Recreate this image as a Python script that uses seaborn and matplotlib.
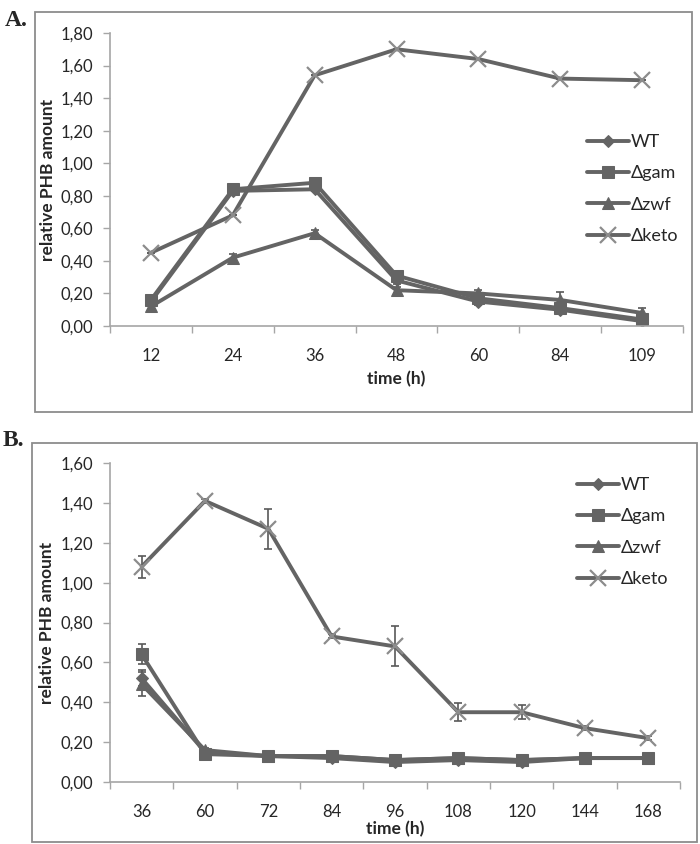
import matplotlib
matplotlib.use("Agg")
import matplotlib.pyplot as plt
from matplotlib.patches import Rectangle
import seaborn as sns

# panel A data
times_a = ["12", "24", "36", "48", "60", "84", "109"]
wt_a = [0.15, 0.83, 0.84, 0.28, 0.15, 0.10, 0.03]
gam_a = [0.16, 0.84, 0.88, 0.31, 0.17, 0.11, 0.04]
zwf_a = [0.12, 0.42, 0.57, 0.22, 0.20, 0.16, 0.08]
keto_a = [0.45, 0.68, 1.54, 1.70, 1.64, 1.52, 1.51]
wt_a_err = [0.01, 0.01, 0.01, 0.02, 0.02, 0.02, 0.01]
gam_a_err = [0.02, 0.01, 0.01, 0.02, 0.02, 0.02, 0.01]
zwf_a_err = [0.02, 0.02, 0.02, 0.02, 0.02, 0.05, 0.03]
keto_a_err = [0.0, 0.0, 0.0, 0.0, 0.0, 0.0, 0.0]

# panel B data
times_b = ["36", "60", "72", "84", "96", "108", "120", "144", "168"]
wt_b = [0.52, 0.15, 0.13, 0.12, 0.10, 0.11, 0.10, 0.12, 0.12]
gam_b = [0.64, 0.14, 0.13, 0.13, 0.11, 0.12, 0.11, 0.12, 0.12]
zwf_b = [0.49, 0.16, 0.13, 0.13, 0.11, 0.12, 0.11, 0.12, 0.12]
keto_b = [1.08, 1.41, 1.27, 0.73, 0.68, 0.35, 0.35, 0.27, 0.22]
wt_b_err = [0.04, 0.01, 0.01, 0.01, 0.01, 0.01, 0.01, 0.01, 0.01]
gam_b_err = [0.05, 0.01, 0.01, 0.01, 0.01, 0.01, 0.01, 0.01, 0.01]
zwf_b_err = [0.06, 0.01, 0.01, 0.01, 0.01, 0.01, 0.01, 0.01, 0.01]
keto_b_err = [0.055, 0.01, 0.10, 0.01, 0.10, 0.045, 0.035, 0.01, 0.01]

labels = ["WT", "Δgam", "Δzwf", "Δketo"]
yticks_a = [0.0, 0.2, 0.4, 0.6, 0.8, 1.0, 1.2, 1.4, 1.6, 1.8]
yticks_b = [0.0, 0.2, 0.4, 0.6, 0.8, 1.0, 1.2, 1.4, 1.6]

LINE = "#646464"
AXIS = "#a6a6a6"
TEXT = "#262626"
styles = {
    "WT": dict(marker="D", markersize=6),
    "Δgam": dict(marker="s", markersize=9),
    "Δzwf": dict(marker="^", markersize=9),
    "Δketo": dict(marker="x", markersize=11),
}

sns.set_style("ticks")
plt.rcParams["font.family"] = ["Lato", "DejaVu Sans"]


def draw_panel(ax, times, series, errs, yticks, legend_xy, fig):
    for name, vals, err in zip(labels, series, errs):
        st = styles[name]
        sns.lineplot(x=times, y=vals, ax=ax, color=LINE, linewidth=2.8,
                     sort=False, label=name, marker=st["marker"],
                     markersize=st["markersize"])
        line = ax.lines[-1]
        if name == "Δketo":
            line.set_markeredgecolor("#8c8c8c")
            line.set_markeredgewidth(1.6)
        else:
            line.set_markerfacecolor(LINE)
            line.set_markeredgecolor(LINE)
        ax.errorbar(times, vals, yerr=err, fmt="none", ecolor="#595959",
                    elinewidth=1.2, capsize=3, capthick=1.2, zorder=1)

    ax.set_xlim(-0.5, len(times) - 0.5)
    ax.set_ylim(0, yticks[-1])
    ax.set_yticks(yticks)
    ax.set_yticklabels([f"{v:.2f}".replace(".", ",") for v in yticks])
    ax.set_xticks(range(len(times)))
    ax.set_xticklabels(times)
    # Excel-style ticks sit between the categories
    ax.set_xticks([i + 0.5 for i in range(-1, len(times))], minor=True)
    ax.tick_params(axis="x", which="major", length=0, pad=16,
                   labelsize=12, labelcolor=TEXT)
    ax.tick_params(axis="x", which="minor", length=5, width=1, color=AXIS)
    ax.tick_params(axis="y", length=5, width=1, color=AXIS, pad=7,
                   labelsize=12, labelcolor=TEXT)
    for s in ["top", "right"]:
        ax.spines[s].set_visible(False)
    for s in ["left", "bottom"]:
        ax.spines[s].set_color(AXIS)
        ax.spines[s].set_linewidth(1.2)
    ax.set_ylabel("relative PHB amount", fontsize=12.5, fontweight="bold",
                  color=TEXT)
    ax.set_xlabel("time (h)", fontsize=12.5, fontweight="bold", color=TEXT)

    ax.legend(loc="upper left", bbox_to_anchor=legend_xy,
              bbox_transform=fig.transFigure, frameon=False, fontsize=13,
              handlelength=2.3, handletextpad=0.1, labelspacing=0.85,
              borderpad=0, borderaxespad=0, labelcolor=TEXT)


fig = plt.figure(figsize=(7, 8.44), dpi=100)

# panel frames
fig.patches.append(Rectangle((35 / 700, 1 - 412 / 844), 657 / 700, 400 / 844,
                             transform=fig.transFigure, fill=False,
                             edgecolor="#8c8c8c", linewidth=1.3))
fig.patches.append(Rectangle((32 / 700, 1 - 842 / 844), 665 / 700, 399 / 844,
                             transform=fig.transFigure, fill=False,
                             edgecolor="#8c8c8c", linewidth=1.3))

ax_a = fig.add_axes([110 / 700, 1 - 326 / 844, 573 / 700, 293 / 844])
ax_b = fig.add_axes([110 / 700, 1 - 782 / 844, 570 / 700, 319 / 844])

draw_panel(ax_a, times_a, [wt_a, gam_a, zwf_a, keto_a],
           [wt_a_err, gam_a_err, zwf_a_err, keto_a_err], yticks_a,
           (587 / 700, 1 - 134 / 844), fig)
draw_panel(ax_b, times_b, [wt_b, gam_b, zwf_b, keto_b],
           [wt_b_err, gam_b_err, zwf_b_err, keto_b_err], yticks_b,
           (577 / 700, 1 - 477 / 844), fig)

ax_a.yaxis.set_label_coords(-54 / 573, 0.5)
ax_a.xaxis.set_label_coords(0.5, -45 / 293)
ax_b.yaxis.set_label_coords(-55 / 570, 0.5)
ax_b.xaxis.set_label_coords(0.5, -39 / 319)

fig.text(5 / 700, 1 - 20 / 844, "A.", fontsize=17, fontweight="bold",
         family="Liberation Serif", va="center", ha="left")
fig.text(3 / 700, 1 - 440 / 844, "B.", fontsize=17, fontweight="bold",
         family="Liberation Serif", va="center", ha="left")

fig.savefig("out.png", dpi=100)
